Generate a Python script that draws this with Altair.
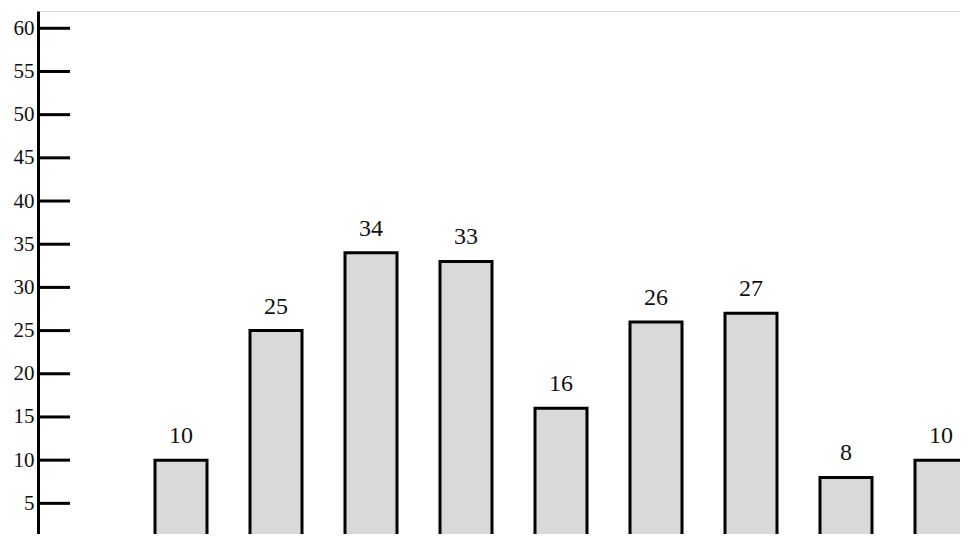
import altair as alt
import pandas as pd

categories = ["1", "2", "3", "4", "5", "6", "7", "8", "9"]
values = [10, 25, 34, 33, 16, 26, 27, 8, 10]
tick_values = [5, 10, 15, 20, 25, 30, 35, 40, 45, 50, 55, 60]

df = pd.DataFrame({"cat": categories, "value": values})
ticks_df = pd.DataFrame({"t": tick_values})

FONT = "Liberation Serif"

x_enc = alt.X(
    "cat:N",
    sort=categories,
    axis=None,
    scale=alt.Scale(paddingInner=0.4526, paddingOuter=1, align=0.6158, range=[0, 1002]),
)
# plot area is cropped at the bottom like the reference (zero lies just below)
y_scale = alt.Scale(domain=[1.45, 62], nice=False, zero=False)

bars = alt.Chart(df).mark_bar(
    fill="#d9d9d9", stroke="black", strokeWidth=3, clip=True
).encode(
    x=x_enc,
    y=alt.Y(
        "value:Q",
        scale=y_scale,
        axis=alt.Axis(
            values=tick_values,
            ticks=False,
            grid=False,
            title=None,
            domainColor="black",
            domainWidth=3,
            labelFont=FONT,
            labelFontSize=21,
            labelColor="#111111",
            labelPadding=4,
            labelBaseline="middle",
        ),
    ),
    y2=alt.datum(0),
)

labels = alt.Chart(df).mark_text(
    font=FONT, fontSize=24, color="#111111", baseline="alphabetic", dy=-17, clip=True
).encode(
    x=x_enc,
    y=alt.Y("value:Q", scale=y_scale),
    text="value:Q",
)

tick_rules = alt.Chart(ticks_df).mark_rule(color="black", strokeWidth=3).encode(
    y=alt.Y("t:Q", scale=y_scale),
    x=alt.value(0),
    x2=alt.value(32),
)

chart = (
    alt.layer(bars, labels, tick_rules)
    .properties(
        width=922,
        height=523,
        autosize=alt.AutoSizeParams(type="none"),
        padding={"left": 30, "top": 3, "right": 0, "bottom": 0},
    )
    .configure_view(stroke="transparent", strokeWidth=0)
    .configure(background="white")
)

chart.save("out.html", embed_options={"renderer": "svg", "actions": False})
